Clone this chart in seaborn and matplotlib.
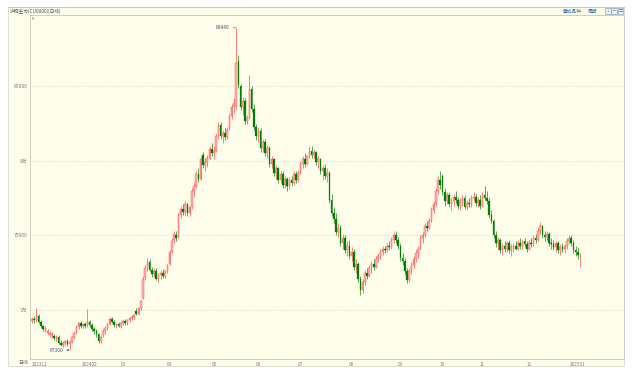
import numpy as np
import pandas as pd
import matplotlib
matplotlib.use('Agg')
import matplotlib.pyplot as plt
import seaborn as sns
from matplotlib.patches import Rectangle
from matplotlib.lines import Line2D

# 交易日 (去掉节假日)
holidays = ['2024-01-01', '2024-02-09', '2024-02-12', '2024-02-13', '2024-02-14', '2024-02-15',
            '2024-02-16', '2024-04-04', '2024-04-05', '2024-05-01', '2024-05-02', '2024-05-03',
            '2024-06-10', '2024-09-16', '2024-09-17', '2024-10-01', '2024-10-02', '2024-10-03',
            '2024-10-04', '2024-10-07', '2025-01-01']

month_labels = ['202312', '', '202402', '03', '04', '05', '06', '07', '08', '09', '10', '11', '12', '202501']
y_ticks = [70000, 75000, 80000, 85000]
y_tick_labels = ['7万', '75000', '8万', '85000']

opens = [
    69250, 69400, 69300, 69600,
    69200, 68900, 68600, 68450, 68300, 68300, 68250, 68050, 68200, 67800, 67650, 67750, 67900, 67700, 67850, 68150, 68450, 68850, 69100, 68900, 69050, 68950,
    69200, 68950, 68700, 68550, 68350, 67900, 68300, 68600, 68800, 69050, 69400, 69200, 68950, 69050, 68900,
    69150, 69250, 69100, 69300, 69450, 69550, 69950, 69700, 70100, 70800, 72200, 72900, 73200, 72700, 72400, 72600, 72100, 72350, 72500, 72250, 72600,
    73100, 73900, 74700, 75000, 74900, 76400, 76800, 76600, 77100, 76500, 76900, 78000, 78300, 79100, 78800, 80400, 79700, 79900, 80200, 80800,
    80500, 80700, 81700, 82400, 81700, 81900, 81600, 82200, 83000, 83600, 83700, 86700, 85000, 83600, 84000, 82700, 82900, 84800, 83500, 82300,
    81700, 82000, 80900, 81300, 80500, 80900, 79800, 80100, 79200, 79500, 78700, 79100, 78400, 78800, 78300, 78700, 78500, 79100, 78700,
    79200, 79800, 80100, 79800, 80300, 80700, 80400, 80600, 79900, 80100, 79300, 79500, 79000, 79200, 77400, 76500, 76100, 75200, 75500, 74500, 74800, 74000, 74300,
    73600, 73900, 72900, 73100, 72100, 71300, 71900, 72500, 72300, 72800, 73100, 72900, 73400, 73600, 73900, 74100, 74000, 74300, 74200, 74700, 75000, 74700,
    74300, 73500, 73300, 72600, 72000, 72600, 73000, 73400, 73800, 74100, 74800, 75000, 75600, 75500, 76000, 76700, 77100, 78000, 78700,
    79000, 77900, 77300, 77700, 77100, 77300, 77600, 77400, 77000, 77300, 77500, 76900, 77200, 77100, 77500, 77600, 77200, 77400,
    77000, 77700, 77500, 77300, 76400, 76000, 75000, 74500, 74700, 74000, 74300, 74100, 74500, 74000, 74200, 74300, 74100, 74500, 74300, 74600, 74400,
    74100, 74500, 74400, 74800, 74700, 75300, 75600, 75000, 74900, 75100, 74500, 74400, 74200, 74500, 74000, 74200, 74100, 74300, 74600, 74800, 74500, 74000,
    73900, 73600]
highs = [
    69500, 69600, 70150, 69700,
    69300, 69000, 68900, 68700, 68550, 68500, 68400, 68300, 68300, 68000, 67900, 68000, 68050, 68000, 68250, 68550, 68950, 69200, 69250, 69150, 69200, 70050,
    69350, 69100, 68850, 68700, 68450, 68300, 68700, 68900, 69150, 69500, 69550, 69300, 69150, 69200, 69250,
    69350, 69400, 69400, 69550, 69650, 69700, 70100, 70200, 70700, 72300, 73000, 73500, 73400, 72900, 72800, 72800, 72500, 72700, 72750, 72700, 73100,
    74000, 74800, 75300, 75300, 76600, 77000, 77100, 77300, 77200, 77000, 78200, 78500, 79300, 79500, 80300, 80600, 80200, 80400, 81000, 81200,
    81000, 81900, 82600, 82600, 82100, 82200, 82300, 83200, 83800, 84200, 88940, 87100, 85200, 84300, 84200, 83100, 85800, 85000, 83800, 82500,
    82300, 82200, 81500, 81500, 81100, 81000, 80300, 80200, 79700, 79600, 79300, 79300, 79000, 78900, 78900, 79000, 79300, 79300, 79400,
    80000, 80300, 80500, 80400, 81000, 81000, 80800, 80700, 80300, 80200, 79700, 79800, 79500, 79300, 77800, 76900, 76500, 75800, 75700, 75100, 75000, 74600, 74700,
    74200, 74100, 73400, 73200, 72300, 72100, 72700, 72800, 73000, 73300, 73400, 73600, 73800, 74100, 74300, 74300, 74500, 74600, 74900, 75200, 75300, 74900,
    74500, 73800, 73500, 72800, 72800, 73200, 73600, 74000, 74300, 75000, 75200, 75800, 76000, 76200, 76900, 77300, 78200, 79000, 79300,
    79100, 78200, 77900, 77900, 77500, 77800, 78000, 77600, 77500, 77700, 77700, 77400, 77500, 77700, 77900, 77800, 77600, 77700,
    77900, 78300, 78000, 77500, 76700, 76100, 75300, 74900, 74800, 74500, 74600, 74600, 74700, 74400, 74500, 74600, 74700, 74800, 74700, 74800, 74600,
    74700, 74800, 75000, 75100, 75500, 75900, 75700, 75300, 75300, 75200, 74800, 74700, 74600, 74600, 74400, 74500, 74400, 74800, 75000, 75000, 74700, 74300,
    74200, 73800]
lows = [
    69100, 69150, 69200, 69100,
    68800, 68600, 68500, 68350, 68200, 68100, 67950, 67900, 67700, 67550, 67500, 67600, 67550, 67300, 67750, 68050, 68400, 68700, 68800, 68750, 68800, 68850,
    68850, 68600, 68400, 68200, 67750, 67800, 68200, 68400, 68650, 68950, 69100, 68850, 68800, 68850, 68800,
    69000, 69000, 69000, 69200, 69300, 69400, 69650, 69650, 70000, 70700, 72000, 72600, 72600, 72200, 72200, 72000, 71900, 72100, 72150, 72150, 72500,
    73000, 73800, 74500, 74600, 74800, 76200, 76400, 76400, 76300, 76300, 76800, 77600, 78200, 78600, 78700, 79500, 79300, 79600, 80100, 80300,
    80100, 80600, 81500, 81500, 81200, 81400, 81500, 82100, 82800, 83200, 83500, 84900, 83400, 83100, 82500, 82500, 82800, 83300, 82100, 81400,
    81300, 80600, 80600, 80300, 80200, 79600, 79500, 79000, 78800, 78500, 78500, 78200, 78200, 78000, 78100, 78300, 78400, 78500, 78600,
    79100, 79500, 79600, 79700, 80200, 80200, 80200, 79700, 79500, 79100, 78700, 78800, 78600, 77200, 76300, 75800, 75000, 74900, 74300, 74100, 73800, 73600, 73400,
    73300, 72700, 72500, 71900, 71000, 71100, 71700, 72100, 72200, 72500, 72700, 72800, 73200, 73400, 73700, 73800, 73900, 74000, 74100, 74500, 74500, 74100,
    73300, 73000, 72400, 71800, 71900, 72400, 72800, 73200, 73500, 74000, 74500, 74900, 75300, 75400, 75900, 76500, 77000, 77800, 78100,
    77700, 77000, 77100, 76900, 76700, 77000, 77200, 76800, 76700, 77000, 76800, 76700, 76900, 76900, 77300, 77000, 76900, 76800,
    76900, 77400, 77100, 76200, 75800, 74800, 74200, 74000, 73800, 73700, 73900, 73900, 73800, 73600, 73900, 74000, 74000, 74100, 74100, 74200, 73900,
    74000, 74200, 74300, 74500, 74600, 75100, 74800, 74600, 74700, 74300, 74100, 74000, 73900, 73800, 73700, 73900, 73800, 74100, 74400, 74300, 73800, 73600,
    73400, 72900]
closes = [
    69400, 69300, 69650, 69200,
    68900, 68700, 68800, 68600, 68450, 68350, 68100, 68200, 67800, 67650, 67750, 67900, 67700, 67850, 68150, 68450, 68850, 69100, 68900, 69050, 68900, 69250,
    68950, 68700, 68550, 68350, 67900, 68200, 68600, 68800, 69050, 69400, 69200, 68950, 69050, 68900, 69150,
    69250, 69100, 69300, 69450, 69550, 69650, 69700, 70100, 70600, 72100, 72800, 73200, 72700, 72400, 72600, 72100, 72350, 72500, 72250, 72600, 73000,
    73900, 74600, 75100, 74800, 76400, 76800, 76600, 77100, 76500, 76900, 78000, 78300, 79100, 78800, 80100, 79700, 79900, 80200, 80800, 80500,
    80700, 81700, 82400, 81700, 81900, 81600, 82100, 83000, 83600, 83900, 86600, 85100, 83600, 84000, 82700, 82900, 84800, 83500, 82300, 81700,
    82000, 80900, 81300, 80500, 80900, 79800, 80100, 79200, 79500, 78700, 79100, 78400, 78800, 78300, 78700, 78500, 79100, 78700, 79200,
    79800, 80100, 79800, 80300, 80700, 80400, 80600, 79900, 80100, 79300, 79500, 79000, 79200, 77400, 76500, 76100, 75200, 75500, 74500, 74800, 74000, 74300, 73600,
    73900, 72900, 73100, 72100, 71300, 71900, 72500, 72300, 72800, 73100, 72900, 73400, 73600, 73900, 74100, 74000, 74300, 74200, 74700, 75000, 74700, 74300,
    73500, 73300, 72600, 72000, 72600, 73000, 73400, 73800, 74100, 74800, 75000, 75600, 75500, 76000, 76700, 77100, 78000, 78700, 78400,
    77900, 77300, 77700, 77100, 77300, 77600, 77400, 77000, 77300, 77500, 76900, 77200, 77100, 77500, 77600, 77200, 77400, 77000,
    77700, 77500, 77300, 76400, 76000, 75000, 74500, 74700, 74000, 74300, 74100, 74500, 74000, 74200, 74300, 74100, 74500, 74300, 74600, 74400, 74100,
    74500, 74400, 74800, 74700, 75300, 75600, 75000, 74900, 75100, 74500, 74400, 74200, 74500, 74000, 74200, 74100, 74300, 74600, 74800, 74500, 74000, 73900,
    73700, 73650]

dates = pd.bdate_range('2023-12-26', '2025-01-03')
dates = dates[~dates.isin(pd.to_datetime(holidays))]

df = pd.DataFrame({'date': dates, 'open': opens, 'high': highs, 'low': lows, 'close': closes})
df['i'] = np.arange(len(df))
df['ym'] = df['date'].dt.to_period('M')
month_pos = df.groupby('ym')['i'].min().values

up = df[df['close'] >= df['open']]
dn = df[df['close'] < df['open']]

sns.set_style('white')
plt.rcParams['font.family'] = ['Noto Sans CJK SC', 'DejaVu Sans']

W, H = 643, 376
BG = '#fefeea'
fig = plt.figure(figsize=(W / 100, H / 100), dpi=100)
fig.patch.set_facecolor('white')
fig.patches.append(Rectangle((8 / W, 1 - 366 / H), 616 / W, 359 / H, transform=fig.transFigure,
                             facecolor=BG, edgecolor='#d8d8d0', lw=0.6, zorder=-5))
fig.lines.append(Line2D([8 / W, 624 / W], [1 - 7 / H, 1 - 7 / H], transform=fig.transFigure,
                       color='#c8c8c8', lw=0.8, zorder=-4))

ax = fig.add_axes([30 / W, 1 - 359 / H, 594 / W, 344 / H])
ax.set_facecolor(BG)

# 影线
ax.vlines(up['i'], up['low'], up['high'], color='#ff6a6a', lw=0.6, zorder=2)
ax.vlines(dn['i'], dn['low'], dn['high'], color='#3c9c3c', lw=0.6, zorder=2)
# 实体
ax.bar(up['i'], np.maximum(up['close'] - up['open'], 40), bottom=up['open'], width=0.72,
       color='#ffb4b4', edgecolor='#ff5a5a', lw=0.35, zorder=3)
ax.bar(dn['i'], dn['open'] - dn['close'], bottom=dn['close'], width=0.72,
       color='#008000', edgecolor='#008000', lw=0.2, zorder=3)

ax.set_xlim(-0.9, 266.8)
ax.set_ylim(66700, 89800)

ax.set_yticks(y_ticks)
ax.set_yticklabels(y_tick_labels)
ax.yaxis.grid(True, ls=':', color='#d4d4c4', lw=0.6)
ax.xaxis.grid(False)
ax.tick_params(axis='y', labelsize=3.6, colors='#808080', length=0, pad=2)

ax.set_xticks(month_pos)
ax.set_xticklabels(month_labels)
ax.tick_params(axis='x', labelsize=3.4, colors='#808080', length=0, pad=2)
ax.get_xticklabels()[0].set_ha('left')

for s in ['left', 'bottom', 'top', 'right']:
    ax.spines[s].set_color('#cfcfc4')
    ax.spines[s].set_linewidth(0.7)

# 最高 / 最低 标注
hi_i = int(np.argmax(highs))
lo_i = int(np.argmin(lows))
ax.annotate(f'{highs[hi_i]}', xy=(hi_i, highs[hi_i]), xytext=(-4.5, 0), textcoords='offset points',
            ha='right', va='center', fontsize=3.5, color='#505070',
            arrowprops=dict(arrowstyle='-', color='#606080', lw=0.5, shrinkA=0, shrinkB=0))
ax.annotate(f'{lows[lo_i]}', xy=(lo_i, lows[lo_i]), xytext=(-4.5, 0), textcoords='offset points',
            ha='right', va='center', fontsize=3.5, color='#505070',
            arrowprops=dict(arrowstyle='->', color='#606080', lw=0.5, shrinkA=0, shrinkB=0, mutation_scale=3))

# 标题栏与其他文字
fig.text(10 / W, 1 - 11 / H, '沪铜主力(CU0000)(日线)', fontsize=3.4, color='#505050', va='center')
fig.text(31.5 / W, 1 - 19 / H, 'K', fontsize=3, color='#808080', va='center')
fig.text(28 / W, 1 - 363 / H, '日线', fontsize=3.6, color='#707070', va='center', ha='right')
fig.text(563 / W, 1 - 11 / H, '叠加品种', fontsize=3.4, color='#3a6ea5', va='center')
fig.text(588 / W, 1 - 11 / H, '周期', fontsize=3.4, color='#3a6ea5', va='center')
for k, sym in enumerate(['+', '−', '□']):
    x0 = 605 + k * 6.3
    fig.patches.append(Rectangle((x0 / W, 1 - 14 / H), 5.6 / W, 6 / H, transform=fig.transFigure,
                                 facecolor='#eef3f8', edgecolor='#7090b0', lw=0.4))
    fig.text((x0 + 2.8) / W, 1 - 11 / H, sym, fontsize=3, color='#3a6ea5', ha='center', va='center')

fig.savefig('out.png', dpi=100, facecolor='white')
